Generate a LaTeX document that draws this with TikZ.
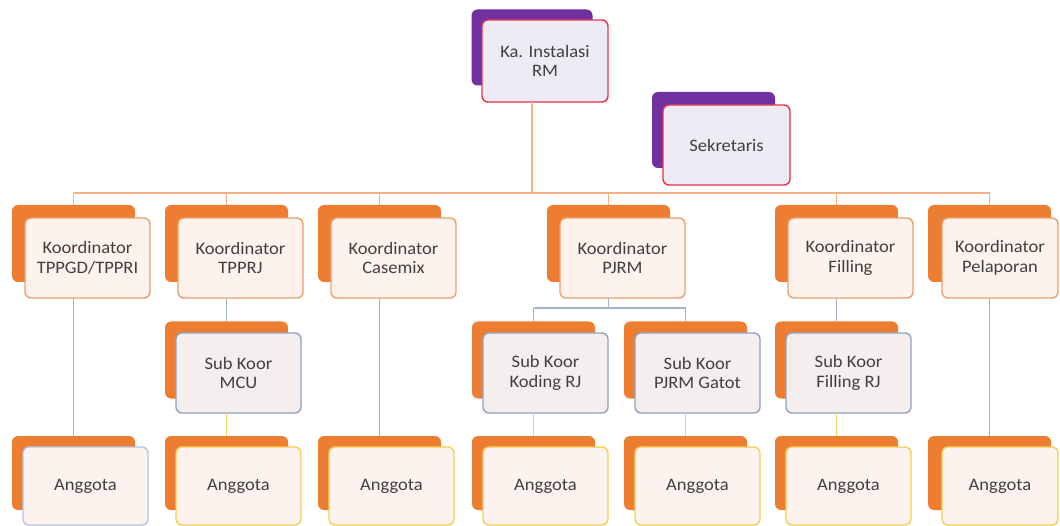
\documentclass[tikz,border=0pt]{standalone}
\usepackage{fontspec}
\setmainfont{Carlito}[FakeStretch=1.06]
\usetikzlibrary{calc}

\definecolor{orangeback}{HTML}{ED7D31}
\definecolor{purpleback}{HTML}{7030A0}
\definecolor{coordborder}{HTML}{EE9E6B}
\definecolor{coordfill}{HTML}{FDF2EC}
\definecolor{topborder}{HTML}{E3344A}
\definecolor{topfill}{HTML}{EEEBF5}
\definecolor{subborder}{HTML}{8FA3BE}
\definecolor{subfill}{HTML}{F4EFEE}
\definecolor{anggborder}{HTML}{F5CF55}
\definecolor{anggfill}{HTML}{FCF2EE}
\definecolor{anggborderb}{HTML}{B4C6E0}
\definecolor{barline}{HTML}{F4B183}
\definecolor{grayline}{HTML}{A5B4CA}
\definecolor{yellowline}{HTML}{F2D36B}
\definecolor{textgray}{HTML}{404040}

\tikzset{
  box/.style={rectangle, rounded corners=6pt, inner sep=0pt, outer sep=0pt},
  backbox/.style={box, fill=orangeback, minimum width=123pt, minimum height=77pt},
  backtop/.style={box, fill=purpleback, minimum width=121pt, minimum height=76pt},
  frontbox/.style={box, line width=1.4pt, minimum width=125pt, minimum height=80pt,
    align=center, text=textgray, font=\fontsize{17.5}{19.5}\selectfont},
  topbox/.style={frontbox, draw=topborder, fill=topfill},
  coordbox/.style={frontbox, draw=coordborder, fill=coordfill},
  subbox/.style={frontbox, draw=subborder, fill=subfill},
  anggbox/.style={frontbox, draw=anggborder, fill=anggfill, minimum height=78pt},
  barlink/.style={draw=barline, line width=1.4pt},
  graylink/.style={draw=grayline, line width=1.4pt},
  yellowlink/.style={draw=yellowline, line width=1.4pt},
}

\begin{document}
\begin{tikzpicture}[x=1pt,y=-1pt]
\useasboundingbox (0,0) rectangle (1060,526);

% ---- head of the unit and secretary
\node[backtop] (headb) at (532,47.5) {};
\node[topbox, minimum width=126pt, minimum height=82pt] (head) at (545,61) {Ka. Instalasi\\RM};
\node[backtop, minimum width=123pt] (secb) at (713.5,130) {};
\node[topbox, minimum width=127pt] (sec) at (726.5,145) {Sekretaris};

% ---- coordinators (back plates first, then the labelled boxes)
\foreach \n/\L in {c1/12, c2/165, c3/318, c4/547, c5/775, c6/928}{
  \node[backbox] (\n b) at (\L+61.5,243.5) {};
}
\node[coordbox] (c1) at (87.5,258) {Koordinator\\TPPGD/TPPRI};
\node[coordbox] (c2) at (240.5,258) {Koordinator\\TPPRJ};
\node[coordbox] (c3) at (393.5,258) {Koordinator\\Casemix};
\node[coordbox] (c4) at (622.5,258) {Koordinator\\PJRM};
\node[coordbox] (c5) at (850.5,258) {Koordinator\\Filling};
\node[coordbox, minimum width=116pt] (c6) at (1000,258) {Koordinator\\Pelaporan};

% ---- sub-coordinators
\foreach \n/\L in {s2/165, s4/472, s5/624, s6/775}{
  \node[backbox] (\n b) at (\L+61.5,360) {};
}
\node[subbox] (s2) at (238.5,373) {Sub Koor\\MCU};
\node[subbox] (s4) at (545.5,373) {Sub Koor\\Koding RJ};
\node[subbox] (s5) at (697.5,373) {Sub Koor\\PJRM Gatot};
\node[subbox] (s6) at (848.5,373) {Sub Koor\\Filling RJ};

% ---- members
\foreach \n/\L in {a1/12, a2/165, a3/318, a4/472, a5/624, a6/775, a7/928}{
  \node[backbox, minimum height=74pt] (\n b) at (\L+61.5,473) {};
}
\node[anggbox, draw=anggborderb] (a1) at (85.5,486) {Anggota};
\node[anggbox] (a2) at (238.5,486) {Anggota};
\node[anggbox] (a3) at (391.5,486) {Anggota};
\node[anggbox] (a4) at (545.5,486) {Anggota};
\node[anggbox] (a5) at (697.5,486) {Anggota};
\node[anggbox] (a6) at (848.5,486) {Anggota};
\node[anggbox, minimum width=116pt] (a7) at (1000,486) {Anggota};

% ---- connectors from the head to the coordinators
\coordinate (bar) at (0,193);
\path[barlink] (headb.center |- head.south) -- (headb.center |- bar);
\path[barlink] (c1b.north |- bar) -- (c6b.north |- bar);
\foreach \n in {c1,c2,c3,c4,c5,c6}{
  \path[barlink] (\n b.north |- bar) -- (\n b.north);
}

% ---- PJRM branch
\coordinate (fork) at (0,308);
\path[graylink] (c4b.center |- c4.south) -- (c4b.center |- fork);
\path[graylink] (s4b.north |- fork) -- (s5b.north |- fork);
\path[graylink] (s4b.north |- fork) -- (s4b.north);
\path[graylink] (s5b.north |- fork) -- (s5b.north);

% ---- coordinators to sub-coordinators or members
\path[graylink] (c1b.center |- c1.south) -- (a1b.north);
\path[graylink] (c2b.center |- c2.south) -- (s2b.north);
\path[graylink] (c3b.center |- c3.south) -- (a3b.north);
\path[graylink] (c5b.center |- c5.south) -- (s6b.north);
\path[graylink] (c6b.center |- c6.south) -- (a7b.north);

% ---- sub-coordinators to members
\path[yellowlink] (s2b.center |- s2.south) -- (a2b.north);
\path[yellowlink] (s4b.center |- s4.south) -- (a4b.north);
\path[yellowlink] (s5b.center |- s5.south) -- (a5b.north);
\path[yellowlink] (s6b.center |- s6.south) -- (a6b.north);
\end{tikzpicture}
\end{document}
